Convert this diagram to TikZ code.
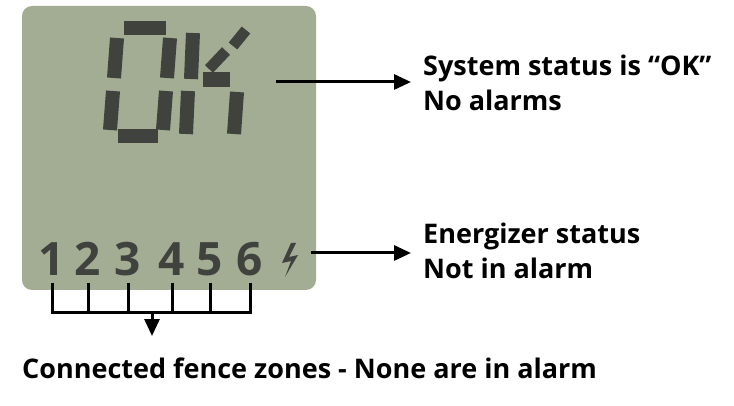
\documentclass[tikz,border=0pt]{standalone}
\usepackage{fontspec}
\setmainfont{Open Sans}
\usetikzlibrary{arrows.meta}
\definecolor{lcd}{RGB}{163,173,148}
\definecolor{seg}{RGB}{64,66,62}
\tikzset{
  sg/.style={seg, line width=14pt, line cap=butt},
  dig/.style={text=seg, font=\fontsize{46}{46}\bfseries\selectfont, inner sep=0pt, anchor=base},
  lbl/.style={font=\fontsize{27}{35}\bfseries\selectfont, anchor=west, inner sep=0pt, align=left},
  ln/.style={line width=3pt, black},
  arr/.style={ln, -{Triangle[length=17pt,width=15pt]}}
}
\begin{document}
\begin{tikzpicture}[x=1pt,y=-1pt]
\useasboundingbox (0,0) rectangle (734,406);
\fill[lcd, rounded corners=10pt] (22,6) rectangle (316,290);
% O
\draw[sg] (124,28)--(166,28);
\draw[sg] (117,38)--(114,78);
\draw[sg] (170,38)--(167,78);
\draw[sg] (113,91)--(110,130);
\draw[sg] (166,91)--(163,130);
\draw[sg] (118,136)--(158,136);
% K
\draw[sg] (193,33)--(191,79);
\draw[sg] (188,91)--(186,134);
\draw[seg, line width=11pt] (246,30)--(233,46);
\draw[seg, line width=11pt] (226,51)--(209,69);
\draw[seg, line width=15pt] (203,80)--(230,80);
\draw[sg] (237,92)--(234,134);
% digits
\node[dig] (d1) at (52,276) {1};
\node[dig] (d2) at (88,276) {2};
\node[dig] (d3) at (128,276) {3};
\node[dig] (d4) at (172,276) {4};
\node[dig] (d5) at (210,276) {5};
\node[dig] (d6) at (250,276) {6};
\fill[seg] (291,243)--(282,263)--(291,261)--(285,277)--(298,255)--(289,257)--(296,243)--cycle;
% bracket
\foreach \x in {52,88,128,172,210,250} \draw[ln] (\x,283)--(\x,312);
\draw[ln] (50.5,312)--(251.5,312);
\coordinate (bm) at (152,312);
\coordinate (bt) at (152,336);
\draw[arr] (bm)--(bt);
% arrows and labels
\coordinate (a1) at (276,82);
\coordinate (a2) at (311,253);
\coordinate (e1) at (411,82);
\coordinate (e2) at (411,253);
\node[lbl] (t1) at (423,83) {System status is “OK”\\No alarms};
\node[lbl] (t2) at (423,251) {Energizer status\\Not in alarm};
\draw[arr] (a1)--(e1);
\draw[arr] (a2)--(e2);
\node[lbl] (t3) at (22,368) {Connected fence zones - None are in alarm};
\end{tikzpicture}
\end{document}
